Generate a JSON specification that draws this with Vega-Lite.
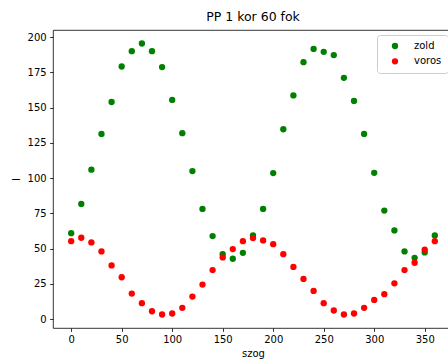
{
  "$schema": "https://vega.github.io/schema/vega-lite/v6.json",
  "autosize": {"type": "none"},
  "padding": {"left": 53, "top": 30, "right": 0, "bottom": 36},
  "width": 400,
  "height": 298,
  "background": "white",
  "title": {"text": "PP 1 kor 60 fok", "font": "DejaVu Sans", "fontSize": 12.5, "fontWeight": "normal", "color": "#000000", "anchor": "middle", "offset": 7},
  "config": {
    "view": {"stroke": "#000000", "strokeWidth": 0.8},
    "axis": {"grid": false, "domain": false, "tickColor": "#000000", "tickSize": 3.4, "tickWidth": 0.8, "labelFont": "DejaVu Sans", "labelFontSize": 10, "labelColor": "#000000", "labelPadding": 3.4, "titleFont": "DejaVu Sans", "titleFontSize": 10, "titleFontWeight": "normal", "titleColor": "#000000"}
  },
  "data": {"values": [
    {"szog": 0, "I": 61.0, "series": "zold"},
    {"szog": 10, "I": 81.7, "series": "zold"},
    {"szog": 20, "I": 106.0, "series": "zold"},
    {"szog": 30, "I": 131.4, "series": "zold"},
    {"szog": 40, "I": 154.0, "series": "zold"},
    {"szog": 50, "I": 179.2, "series": "zold"},
    {"szog": 60, "I": 190.1, "series": "zold"},
    {"szog": 70, "I": 195.5, "series": "zold"},
    {"szog": 80, "I": 190.1, "series": "zold"},
    {"szog": 90, "I": 178.8, "series": "zold"},
    {"szog": 100, "I": 155.5, "series": "zold"},
    {"szog": 110, "I": 131.9, "series": "zold"},
    {"szog": 120, "I": 105.0, "series": "zold"},
    {"szog": 130, "I": 78.2, "series": "zold"},
    {"szog": 140, "I": 58.9, "series": "zold"},
    {"szog": 150, "I": 46.1, "series": "zold"},
    {"szog": 160, "I": 42.8, "series": "zold"},
    {"szog": 170, "I": 47.0, "series": "zold"},
    {"szog": 180, "I": 59.3, "series": "zold"},
    {"szog": 190, "I": 78.2, "series": "zold"},
    {"szog": 200, "I": 103.6, "series": "zold"},
    {"szog": 210, "I": 134.7, "series": "zold"},
    {"szog": 220, "I": 158.7, "series": "zold"},
    {"szog": 230, "I": 182.3, "series": "zold"},
    {"szog": 240, "I": 191.7, "series": "zold"},
    {"szog": 250, "I": 189.6, "series": "zold"},
    {"szog": 260, "I": 187.3, "series": "zold"},
    {"szog": 270, "I": 171.2, "series": "zold"},
    {"szog": 280, "I": 154.8, "series": "zold"},
    {"szog": 290, "I": 131.4, "series": "zold"},
    {"szog": 300, "I": 103.8, "series": "zold"},
    {"szog": 310, "I": 77.0, "series": "zold"},
    {"szog": 320, "I": 62.9, "series": "zold"},
    {"szog": 330, "I": 48.0, "series": "zold"},
    {"szog": 340, "I": 43.5, "series": "zold"},
    {"szog": 350, "I": 47.3, "series": "zold"},
    {"szog": 360, "I": 59.3, "series": "zold"},
    {"szog": 0, "I": 55.3, "series": "voros"},
    {"szog": 10, "I": 57.7, "series": "voros"},
    {"szog": 20, "I": 54.4, "series": "voros"},
    {"szog": 30, "I": 48.0, "series": "voros"},
    {"szog": 40, "I": 38.1, "series": "voros"},
    {"szog": 50, "I": 29.7, "series": "voros"},
    {"szog": 60, "I": 18.1, "series": "voros"},
    {"szog": 70, "I": 11.3, "series": "voros"},
    {"szog": 80, "I": 5.6, "series": "voros"},
    {"szog": 90, "I": 3.3, "series": "voros"},
    {"szog": 100, "I": 4.0, "series": "voros"},
    {"szog": 110, "I": 8.0, "series": "voros"},
    {"szog": 120, "I": 16.0, "series": "voros"},
    {"szog": 130, "I": 24.5, "series": "voros"},
    {"szog": 140, "I": 34.8, "series": "voros"},
    {"szog": 150, "I": 43.8, "series": "voros"},
    {"szog": 160, "I": 49.7, "series": "voros"},
    {"szog": 170, "I": 55.3, "series": "voros"},
    {"szog": 180, "I": 57.5, "series": "voros"},
    {"szog": 190, "I": 55.8, "series": "voros"},
    {"szog": 200, "I": 53.2, "series": "voros"},
    {"szog": 210, "I": 46.1, "series": "voros"},
    {"szog": 220, "I": 37.0, "series": "voros"},
    {"szog": 230, "I": 28.5, "series": "voros"},
    {"szog": 240, "I": 20.0, "series": "voros"},
    {"szog": 250, "I": 11.3, "series": "voros"},
    {"szog": 260, "I": 6.1, "series": "voros"},
    {"szog": 270, "I": 3.3, "series": "voros"},
    {"szog": 280, "I": 4.0, "series": "voros"},
    {"szog": 290, "I": 8.0, "series": "voros"},
    {"szog": 300, "I": 13.6, "series": "voros"},
    {"szog": 310, "I": 17.7, "series": "voros"},
    {"szog": 320, "I": 25.4, "series": "voros"},
    {"szog": 330, "I": 34.8, "series": "voros"},
    {"szog": 340, "I": 40.0, "series": "voros"},
    {"szog": 350, "I": 49.2, "series": "voros"},
    {"szog": 360, "I": 55.3, "series": "voros"}
  ]},
  "mark": {"type": "circle", "size": 40, "opacity": 1},
  "encoding": {
    "x": {"field": "szog", "type": "quantitative", "title": "szog",
          "scale": {"domain": [-18, 378], "nice": false, "zero": false},
          "axis": {"values": [0, 50, 100, 150, 200, 250, 300, 350], "titlePadding": 4}},
    "y": {"field": "I", "type": "quantitative", "title": "I",
          "scale": {"domain": [-6.3, 205.1], "nice": false, "zero": false},
          "axis": {"values": [0, 25, 50, 75, 100, 125, 150, 175, 200], "titlePadding": 6}},
    "color": {"field": "series", "type": "nominal",
              "scale": {"domain": ["zold", "voros"], "range": ["#008000", "#ff0000"]},
              "legend": {"title": null, "orient": "none", "legendX": 324, "legendY": 5,
                         "fillColor": "white", "strokeColor": "#cccccc", "cornerRadius": 3,
                         "padding": 6, "symbolOffset": 7, "symbolSize": 40, "symbolType": "circle",
                         "labelFont": "DejaVu Sans", "labelFontSize": 10, "labelColor": "#000000",
                         "labelOffset": 14, "rowPadding": 5.3}}
  }
}
